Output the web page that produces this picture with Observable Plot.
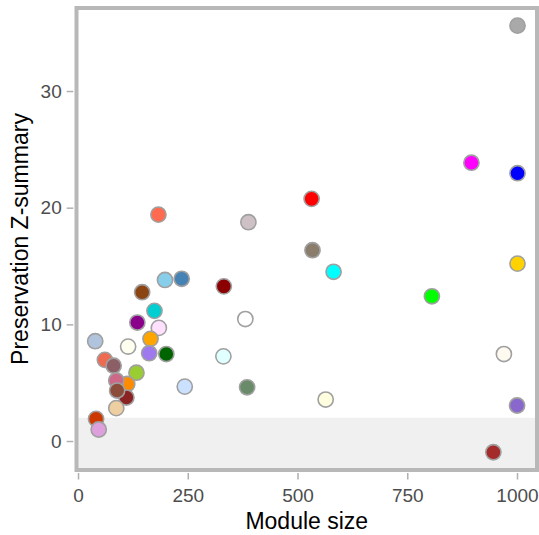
<!DOCTYPE html>
<html>
<head>
<meta charset="utf-8">
<script src="https://cdn.jsdelivr.net/npm/d3@7"></script>
<script src="https://cdn.jsdelivr.net/npm/@observablehq/plot@0.6"></script>
<style>
  html, body { margin: 0; padding: 0; background: #ffffff; }
  #chart svg { display: block; font-family: "Liberation Sans", Arial, sans-serif; }
</style>
</head>
<body>
<div id="chart"></div>
<script>
// Module names (WGCNA colours)
const modules = ["grey","magenta","blue","red","coral1","lavenderblush3","bisque4","gold","cyan","skyblue","steelblue","darkred","saddlebrown","green","darkturquoise","white","darkmagenta","thistle1","orange","lightsteelblue","ivory","floralwhite","mediumpurple2","darkgreen","lightcyan","coral2","lightpink4","yellowgreen","darkorange","palevioletred3","lightsteelblue1","darkseagreen4","brown4","salmon4","lightyellow","mediumpurple3","navajowhite2","orangered3","plum","brown"];
// Module size (x)
const moduleSize = [1000,895,1000,531,182,387,533,1000,581,197,235,331,145,805,173,380,134,183,164,38,113,969,161,200,330,60,80,132,111,86,242,384,109,88,563,999,86,40,46,945];
// Preservation Z-summary (y)
const zSummary = [35.65,23.9,23.0,20.8,19.45,18.8,16.4,15.25,14.55,13.85,13.95,13.3,12.8,12.45,11.2,10.5,10.2,9.74,8.8,8.6,8.14,7.5,7.57,7.5,7.3,7.0,6.5,5.9,4.93,5.23,4.71,4.65,3.77,4.37,3.6,3.09,2.86,1.94,1.03,-0.92];
// Colour for each module
const moduleColors = ["#a9a9a9","#ff00ff","#0000ff","#ff0000","#ff6a50","#cdc1c5","#8b7d6b","#ffd200","#00ffff","#87ceeb","#4682b4","#8b0000","#8b4513","#00ff00","#00ced1","#ffffff","#8b008b","#ffe1ff","#ffa500","#b0c4de","#fffff0","#fffaf0","#9f79ee","#006400","#e0ffff","#ee6a50","#8b5f65","#9acd32","#ff8c00","#cd6889","#cae1ff","#698b69","#8b2323","#8b4c39","#ffffe0","#8968cd","#eecfa1","#cd3700","#dda0dd","#a52a2a"];
// Tick labels
const xTicks = [0, 250, 500, 750, 1000];
const yTicks = [0, 10, 20, 30];
// Threshold for shaded low-preservation band
const threshold = 2;
const xDomain = [-4.6, 1044.4];
const yDomain = [-2.44, 37.16];

const data = modules.map((m, i) => ({module: m, size: moduleSize[i], z: zSummary[i]}));

const chart = Plot.plot({
  width: 539,
  height: 535,
  marginLeft: 76,
  marginRight: 2.5,
  marginTop: 7.5,
  marginBottom: 65.5,
  style: {background: "#ffffff", fontFamily: "'Liberation Sans', Arial, sans-serif"},
  x: {domain: xDomain},
  y: {domain: yDomain},
  color: {type: "ordinal", domain: modules, range: moduleColors},
  marks: [
    Plot.rect([{lo: yDomain[0], hi: threshold}], {x1: () => xDomain[0], x2: () => xDomain[1], y1: "lo", y2: "hi", fill: "#f0f0f0"}),
    Plot.dot(data, {x: "size", y: "z", r: 7.6, fill: "module", stroke: "#a0a0a0", strokeWidth: 1.6}),
    Plot.frame({stroke: "#b8b8b8", strokeWidth: 4}),
    Plot.axisX({ticks: xTicks, tickFormat: d => String(d), tickSize: 6.5, tickPadding: 8, dy: 3.5, fontSize: 19, color: "#4d4d4d", stroke: "#b0b0b0", strokeWidth: 1.5, label: null}),
    Plot.axisY({ticks: yTicks, tickFormat: d => String(d), tickSize: 6.6, tickPadding: 5.5, dx: -2.7, fontSize: 19, color: "#4d4d4d", stroke: "#b0b0b0", strokeWidth: 1.5, label: null}),
    Plot.text(["Module size"], {frameAnchor: "bottom", dy: 52, fontSize: 23, fill: "#000000", textAnchor: "middle", lineAnchor: "middle"}),
    Plot.text(["Preservation Z-summary"], {frameAnchor: "left", dx: -56, rotate: -90, fontSize: 23, fill: "#000000", textAnchor: "middle", lineAnchor: "middle"})
  ]
});
document.getElementById("chart").appendChild(chart);
</script>
</body>
</html>
